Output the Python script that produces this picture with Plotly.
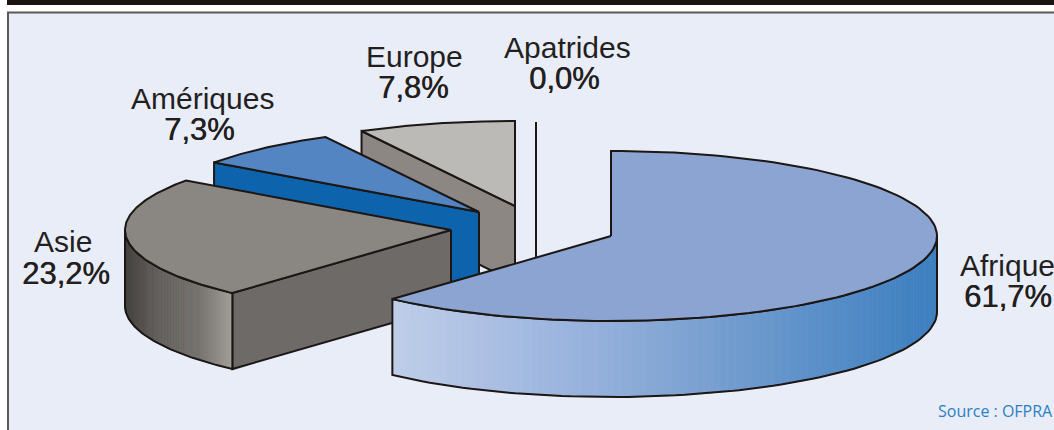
import numpy as np
import plotly.graph_objects as go

categories = ["Afrique", "Asie", "Amériques", "Europe", "Apatrides"]
values = [61.7, 23.2, 7.3, 7.8, 0.0]
value_labels = ["61,7%", "23,2%", "7,3%", "7,8%", "0,0%"]
source_text = "Source : OFPRA"

# Drawing style: exploded slice centres in page pixels, ellipse radii and wall depth
centres = [(611, 236), (451, 230), (479, 212), (515, 206), (536, 207)]
RX, RY, DEPTH = 326, 85, 76
top_colors = ["#8ba4d2", "#8a8681", "#5285c2", "#bcbab6", "#e9edf8"]
cut_colors = ["#8ba4d2", "#6e6a67", "#0d64ad", "#8c8782", "#e9edf8"]
wall_stops = {
    0: [(391, "#bfcfe9"), (500, "#a9bde2"), (600, "#93b0db"), (700, "#7ba1d0"), (800, "#5f92ca"), (937, "#3c7ebf")],
    1: [(125, "#45433f"), (160, "#63605c"), (200, "#77736f"), (232, "#a29e99")],
}
INK = "#1c1715"
BG = "#e9edf8"

fig = go.Figure()


def pt(c, deg, dy=0.0):
    t = np.radians(deg)
    return c[0] + RX * np.sin(t), c[1] - RY * np.cos(t) + dy


def poly(xs, ys, fill=None, line=None, width=2.0):
    fig.add_trace(go.Scatter(
        x=list(xs), y=list(ys), mode="lines", hoverinfo="skip", showlegend=False,
        fill="toself" if fill else None, fillcolor=fill,
        line=dict(color=line or fill, width=width),
    ))


def hex_rgb(h):
    return np.array([int(h[i:i + 2], 16) for i in (1, 3, 5)], float)


def grad(stops, x):
    xs = [s[0] for s in stops]
    r, g, b = [np.interp(x, xs, [hex_rgb(s[1])[k] for s in stops]) for k in range(3)]
    return f"rgb({r:.0f},{g:.0f},{b:.0f})"


shares = np.array(values) / sum(values) * 360
starts = np.concatenate([[0], np.cumsum(shares)[:-1]])
ends = np.cumsum(shares)

for i in reversed(range(len(categories))):
    c, a0, a1 = centres[i], starts[i], ends[i]
    # cut face seen from the front
    if 0 < a0 < 360 and values[i] > 0:
        px, py = pt(c, a0)
        poly([c[0], px, px, c[0], c[0]],
             [c[1], py, py + DEPTH, c[1] + DEPTH, c[1]],
             fill=cut_colors[i], line=INK)
    # far edge when the slice ends on the vertical
    if abs(a1 - 360) < 1e-6:
        px, py = pt(c, a1)
        poly([px, px], [py, c[1] + DEPTH], line=INK)
    # outer curved wall
    w0, w1 = max(a0, 90), min(a1, 270)
    if i in wall_stops and w1 > w0:
        edges = np.linspace(w0, w1, 91)
        for e0, e1 in zip(edges[:-1], edges[1:]):
            p0, p1 = pt(c, e0), pt(c, e1)
            poly([p0[0], p1[0], p1[0], p0[0], p0[0]],
                 [p0[1], p1[1], p1[1] + DEPTH, p0[1] + DEPTH, p0[1]],
                 fill=grad(wall_stops[i], (p0[0] + p1[0]) / 2), width=0.8)
        arc = np.linspace(w0, w1, 80)
        tx, ty = zip(*[pt(c, a) for a in arc])
        bx, by = zip(*[pt(c, a, DEPTH) for a in arc[::-1]])
        poly(list(tx) + list(bx) + [tx[0]], list(ty) + list(by) + [ty[0]], line=INK)
    # top face
    if values[i] > 0:
        arc = np.linspace(a0, a1, 120)
        tx, ty = zip(*[pt(c, a) for a in arc])
        poly([c[0]] + list(tx) + [c[0]], [c[1]] + list(ty) + [c[1]],
             fill=top_colors[i], line=INK)

NAME_FONT = dict(family="Liberation Sans", size=30, color="#231f20")
PCT_FONT = dict(family="Liberation Sans", size=31, color="#231f20",
                shadow="0.5px 0 0 #231f20")
name_pos = [(958, 265, "left"), (63, 241, "center"), (202, 98, "center"),
            (414, 56, "center"), (567, 47, "center")]
pct_pos = [(1008, 296, "center"), (66, 273, "center"), (199, 129, "center"),
           (413, 87, "center"), (564, 78, "center")]
annotations = []
for name, label, n, p in zip(categories, value_labels, name_pos, pct_pos):
    annotations.append(dict(x=n[0], y=n[1], text=name, xanchor=n[2], yanchor="middle",
                            showarrow=False, font=NAME_FONT, xref="x", yref="y"))
    annotations.append(dict(x=p[0], y=p[1], text=label, xanchor=p[2], yanchor="middle",
                            showarrow=False, font=PCT_FONT, xref="x", yref="y"))
annotations.append(dict(x=936, y=411, text=source_text, xanchor="left", yanchor="middle",
                        showarrow=False, xref="x", yref="y",
                        font=dict(family="Open Sans", size=16, color="#2b7fc3")))

fig.update_layout(
    width=1054, height=430, margin=dict(l=0, r=0, t=0, b=0),
    paper_bgcolor="#ffffff", plot_bgcolor="#ffffff", showlegend=False,
    xaxis=dict(range=[0, 1054], visible=False, fixedrange=True),
    yaxis=dict(range=[430, 0], visible=False, fixedrange=True),
    annotations=annotations,
    shapes=[
        dict(type="rect", xref="x", yref="y", x0=8, x1=1060, y0=12.5, y1=440,
             fillcolor=BG, line=dict(color="#5c5855", width=2), layer="below"),
        dict(type="rect", xref="x", yref="y", x0=7, x1=1060, y0=-2, y1=5,
             fillcolor="#1a1311", line=dict(width=0), layer="below"),
    ],
)

fig.write_html("out.html", config={"displayModeBar": False},
               post_script="document.body.style.margin='0';document.body.style.overflow='hidden';")
